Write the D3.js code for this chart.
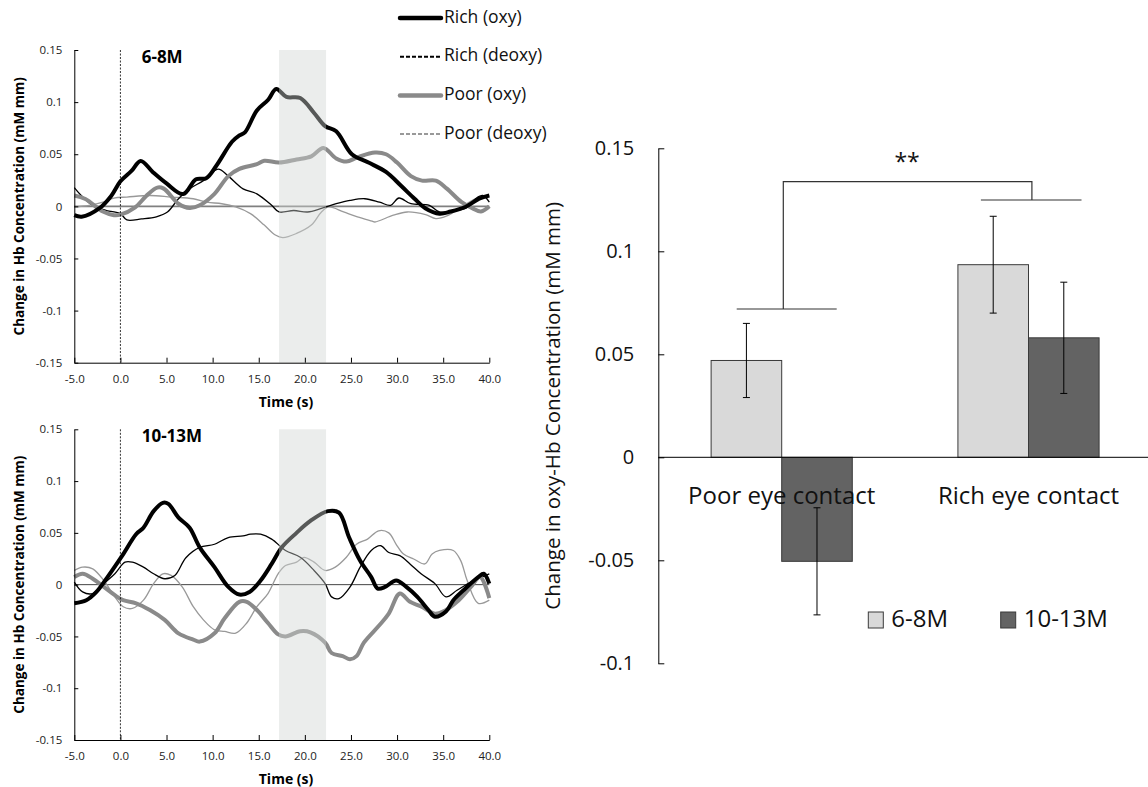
<!DOCTYPE html>
<html>
<head>
<meta charset="utf-8">
<script src="https://cdn.jsdelivr.net/npm/d3@7"></script>
<style>
  body { margin: 0; background: #fff; }
  svg { font-family: "Open Sans", sans-serif; }
</style>
</head>
<body>
<svg id="chart" width="1148" height="787"></svg>
<script>
//Time axis and value axis ticks shared by both line panels
const timeTicks = [-5, 0, 5, 10, 15, 20, 25, 30, 35, 40];
const hbTicks = [-0.15, -0.1, -0.05, 0, 0.05, 0.1, 0.15];
//Shaded analysis window (s)
const windowRange = [17.2, 22.3];

//6-8M panel, [time (s), change in Hb]
const richOxy68 = [[-5,-0.0085],[-4.2,-0.010],[-2.3,-0.002],[-1,0.010],[0,0.024],[1.2,0.034],[2.2,0.0436],[3.5,0.033],[5,0.022],[6.8,0.0118],[8.2,0.026],[9.3,0.027],[10.4,0.039],[12.1,0.062],[12.9,0.068],[13.5,0.071],[14.8,0.092],[16,0.102],[16.9,0.1125],[18,0.105],[19.5,0.104],[21,0.0896],[22.2,0.077],[23.4,0.072],[25.1,0.05],[26.9,0.042],[28.8,0.033],[30.4,0.020],[31.9,0.0073],[33.1,-0.002],[34.6,-0.007],[35.8,-0.005],[37.4,-0.0006],[38.9,0.0073],[40,0.0104]];
const richDeoxy68 = [[-5,0.018],[-4.2,0.010],[-3,0.001],[-1.5,-0.004],[0,-0.007],[0.7,-0.013],[2.3,-0.012],[3.9,-0.010],[5.1,-0.0054],[6.3,0.0073],[7.5,0.0168],[9,0.0247],[10.6,0.0358],[11.7,0.029],[13.3,0.0168],[14.8,0.012],[16.4,0.001],[17.2,-0.0054],[18.8,-0.004],[20.3,-0.0054],[21.8,-0.002],[23.4,0.0025],[24.9,0.0057],[26.5,0.0073],[28.1,0.004],[29.3,0.001],[30.2,0.008],[31.5,0.0025],[33.5,0.001],[34.6,-0.0054],[36.2,-0.004],[37.4,-0.002],[38.5,0.0073],[39.3,0.0104],[40,0.004]];
const poorOxy68 = [[-5,0.0104],[-3.8,0.007],[-1.9,-0.005],[-0.7,-0.0085],[0,-0.008],[1.6,-0.001],[2.8,0.010],[4,0.018],[4.7,0.017],[6.3,0.0025],[7.5,-0.0016],[8.6,0.001],[10.2,0.012],[11.7,0.029],[12.9,0.036],[14.8,0.0405],[15.6,0.0437],[17.2,0.042],[19.1,0.045],[20.7,0.048],[22,0.056],[23.4,0.046],[24.5,0.043],[25.7,0.047],[27.6,0.0516],[28.8,0.050],[30,0.042],[31.5,0.029],[32.7,0.0247],[34.2,0.0247],[35.4,0.017],[37,0.004],[38.2,-0.002],[39.1,-0.005],[40,0]];
const poorDeoxy68 = [[-5,-0.0006],[-3.4,0.001],[-1.9,0.004],[-0.7,0.008],[0.7,0.0089],[3.2,0.0104],[5.5,0.0089],[7.9,0.0073],[9.4,0.004],[11,0.0025],[12.5,-0.0006],[14.1,-0.007],[15.6,-0.018],[16.8,-0.0275],[17.6,-0.030],[19.1,-0.026],[20.7,-0.018],[21.8,-0.0054],[22.6,-0.0006],[24.2,-0.0054],[25.7,-0.010],[27.3,-0.0142],[27.6,-0.015],[29.6,-0.0085],[31.1,-0.0054],[33.1,-0.008],[34.2,-0.0117],[35.4,-0.0092],[37,-0.0006],[38.5,0.0073],[40,0.0104]];

//10-13M panel
const richOxy1013 = [[-5,-0.018],[-3.7,-0.015],[-2.6,-0.007],[-1.4,0.0073],[0.2,0.028],[1.7,0.0487],[2.5,0.055],[3.6,0.071],[4.6,0.079],[5.2,0.078],[6.3,0.0647],[7.5,0.055],[8.6,0.036],[10.2,0.0169],[11.7,-0.0022],[12.9,-0.0096],[14,-0.007],[15.2,0.004],[16.4,0.020],[17.5,0.036],[19.1,0.050],[20.6,0.0615],[22.5,0.071],[23.7,0.0695],[24.8,0.0455],[26,0.023],[27.2,0.0073],[27.9,-0.0038],[28.7,-0.0022],[29.9,0.004],[31,-0.0022],[32.2,-0.0118],[33.4,-0.0245],[34.1,-0.031],[35.3,-0.026],[36.1,-0.015],[37.2,-0.0054],[38.8,0.0073],[39.4,0.0105],[40,0.001]];
const richDeoxy1013 = [[-5,0.0025],[-4.1,-0.007],[-3,-0.0086],[-1.8,0.001],[-0.6,0.0105],[0.5,0.0217],[1.3,0.0217],[2.5,0.0169],[3.6,0.0105],[4.8,0.0057],[5.9,0.0089],[7.1,0.026],[8.6,0.036],[10.2,0.039],[11.7,0.0455],[13.3,0.047],[14.1,0.0487],[15.2,0.0487],[16.4,0.044],[17.9,0.033],[19.5,0.0264],[21,0.0137],[22.2,0.001],[22.9,-0.0118],[23.7,-0.0134],[24.9,-0.0022],[26,0.0169],[27.2,0.033],[28.2,0.0376],[29.1,0.031],[30.3,0.028],[31.4,0.020],[32.6,0.0105],[34.1,0.001],[35.3,-0.0118],[36.5,-0.0054],[38,0.0025],[40,0.0105]];
const poorOxy1013 = [[-5,0.0073],[-4.1,0.0105],[-3,0.0057],[-1.8,-0.0022],[-0.6,-0.0102],[0.3,-0.015],[1.7,-0.018],[3.2,-0.0245],[4.8,-0.034],[6.3,-0.047],[7.9,-0.053],[8.6,-0.055],[10.2,-0.047],[11.3,-0.0325],[12.9,-0.0166],[13.7,-0.0166],[14.8,-0.0245],[16,-0.037],[17.1,-0.048],[17.9,-0.050],[19.5,-0.045],[20.6,-0.046],[22.2,-0.056],[22.9,-0.066],[24.1,-0.069],[24.9,-0.072],[25.6,-0.069],[26.4,-0.056],[28,-0.040],[29.1,-0.028],[30.3,-0.0086],[31.4,-0.0166],[32.6,-0.021],[34.1,-0.028],[35.3,-0.0245],[36.5,-0.0166],[38,-0.0022],[39,0.0073],[40,-0.013]];
const poorDeoxy1013 = [[-5,0.0137],[-4.1,0.0169],[-3,0.0153],[-1.8,0.004],[-0.6,-0.0118],[0.3,-0.0213],[1.3,-0.023],[2.5,-0.015],[3.6,0.001],[4.6,0.0105],[5.5,0.0089],[6.7,-0.0022],[7.9,-0.0213],[9,-0.034],[10.2,-0.0436],[11.3,-0.0452],[12.5,-0.0468],[13.7,-0.037],[14.8,-0.0213],[16,-0.0086],[17.1,0.0105],[17.9,0.0185],[19.1,0.0217],[19.9,0.0264],[21,0.0217],[22.2,0.0137],[23.3,0.0169],[24.5,0.0264],[25.6,0.039],[26.8,0.044],[28,0.052],[29.1,0.050],[29.9,0.039],[30.7,0.0296],[31.8,0.0248],[33,0.020],[33.8,0.0296],[34.6,0.033],[36.1,0.033],[36.9,0.0232],[37.6,0.004],[38.8,-0.018],[40,-0.015]];

//Legend names for the line panels
const lineNames = ["Rich (oxy)", "Rich (deoxy)", "Poor (oxy)", "Poor (deoxy)"];

//Bar chart: categories, age groups, means and standard errors
const conditions = ["Poor eye contact", "Rich eye contact"];
const ageGroups = ["6-8M", "10-13M"];
const barMeans = [[0.047, -0.0505], [0.0935, 0.058]];
const barErrors = [[0.018, 0.026], [0.0235, 0.027]];
const barTicks = [-0.1, -0.05, 0, 0.05, 0.1, 0.15];
//Significance bracket levels (value units)
const bracketLevels = {top: 0.1338, poor: 0.072, rich: 0.1249};

const svg = d3.select("#chart");

//Styles for the four curves, in the order of lineNames
const lineStyles = [
    {color: "#000000", width: 4, dash: null},
    {color: "#000000", width: 1.3, dash: "4,2"},
    {color: "#8a8a8a", width: 4, dash: null},
    {color: "#999999", width: 1.3, dash: "4,2"}
];

function drawPanel(top, bottom, label, series, zeroColor, zeroWidth) {
    const xScale = d3.scaleLinear().domain([-5, 40]).range([74.3, 489.3]);
    const yScale = d3.scaleLinear().domain([-0.15, 0.15]).range([bottom, top]);
    const g = svg.append("g");

    //Zero reference line
    g.append("line")
        .attr("x1", xScale(-5)).attr("x2", xScale(40))
        .attr("y1", yScale(0)).attr("y2", yScale(0))
        .attr("stroke", zeroColor).attr("stroke-width", zeroWidth);

    const line = d3.line()
        .curve(d3.curveCatmullRom.alpha(0.5))
        .x(d => xScale(d[0]))
        .y(d => yScale(d[1]));

    //Curves, thin ones under the thick ones
    [3, 1, 2, 0].forEach(i => {
        g.append("path")
            .datum(series[i])
            .attr("fill", "none")
            .attr("stroke", lineStyles[i].color)
            .attr("stroke-width", lineStyles[i].width)
            .attr("stroke-linejoin", "round")
            .attr("d", line);
    });

    //Semi transparent window drawn over the curves
    g.append("rect")
        .attr("x", xScale(windowRange[0]))
        .attr("width", xScale(windowRange[1]) - xScale(windowRange[0]))
        .attr("y", yScale(0.15))
        .attr("height", yScale(-0.15) - yScale(0.15))
        .attr("fill", "#cfd3d1")
        .attr("fill-opacity", 0.42);

    //Stimulus onset
    g.append("line")
        .attr("x1", xScale(0)).attr("x2", xScale(0))
        .attr("y1", yScale(0.15)).attr("y2", yScale(-0.15))
        .attr("stroke", "#000").attr("stroke-width", 0.8)
        .attr("stroke-dasharray", "2,1.5");

    //Axes with inward ticks
    const xAxis = g.append("g")
        .attr("transform", "translate(0," + yScale(-0.15) + ")")
        .call(d3.axisBottom(xScale)
            .tickValues(timeTicks)
            .tickFormat(d => d.toFixed(1))
            .tickSizeInner(-5).tickSizeOuter(0).tickPadding(12));
    const yAxis = g.append("g")
        .attr("transform", "translate(" + xScale(-5) + ",0)")
        .call(d3.axisLeft(yScale)
            .tickValues(hbTicks)
            .tickFormat(d => String(d))
            .tickSizeInner(-4).tickSizeOuter(0).tickPadding(12));
    [xAxis, yAxis].forEach(a => {
        a.selectAll("text").attr("font-size", 11.5).attr("fill", "#222")
            .attr("font-family", "Open Sans");
        a.select(".domain").attr("stroke", "#000");
    });

    g.append("text")
        .attr("x", 286).attr("y", yScale(-0.15) + 44)
        .attr("text-anchor", "middle")
        .attr("font-size", 14).attr("font-weight", "bold")
        .text("Time (s)");

    g.append("text")
        .attr("transform", "translate(20," + (top + bottom) / 2 + ") rotate(-90)")
        .attr("text-anchor", "middle").attr("dominant-baseline", "middle")
        .attr("font-size", 13.5).attr("font-weight", "bold")
        .text("Change in Hb Concentration (mM mm)");

    g.append("text")
        .attr("x", 141.7).attr("y", top + 8.5)
        .attr("dominant-baseline", "middle")
        .attr("font-size", 17).attr("font-weight", "bold")
        .text(label);
}

drawPanel(50, 362.7, "6-8M", [richOxy68, richDeoxy68, poorOxy68, poorDeoxy68], "#808080", 1.8);
drawPanel(429.3, 740, "10-13M", [richOxy1013, richDeoxy1013, poorOxy1013, poorDeoxy1013], "#444", 1);

//Legend of the line panels
const legend = svg.append("g");
lineNames.forEach((name, i) => {
    const y = 18 + i * 38.7;
    legend.append("line")
        .attr("x1", 400).attr("x2", 441).attr("y1", y).attr("y2", y)
        .attr("stroke", lineStyles[i].color)
        .attr("stroke-width", lineStyles[i].dash ? 2 : 4.5)
        .attr("stroke-linecap", lineStyles[i].dash ? "butt" : "round")
        .attr("stroke-dasharray", lineStyles[i].dash);
    legend.append("text")
        .attr("x", 444).attr("y", y)
        .attr("dominant-baseline", "middle")
        .attr("font-size", 17.5).attr("fill", "#111")
        .text(name);
});

//Bar chart
const barX = d3.scaleBand().domain(conditions).range([658.3, 1151.9])
    .paddingInner(0.428).paddingOuter(0.214);
const groupX = d3.scaleBand().domain(ageGroups).range([0, barX.bandwidth()]);
const barY = d3.scaleLinear().domain([-0.1, 0.15]).range([663.3, 148.3]);
const barColors = ["#d9d9d9", "#636363"];
const bars = svg.append("g");

conditions.forEach((c, ci) => {
    ageGroups.forEach((a, ai) => {
        const v = barMeans[ci][ai];
        const x0 = barX(c) + groupX(a);
        bars.append("rect")
            .attr("x", x0).attr("width", groupX.bandwidth())
            .attr("y", barY(Math.max(v, 0)))
            .attr("height", Math.abs(barY(v) - barY(0)))
            .attr("fill", barColors[ai])
            .attr("stroke", "#3a3a3a").attr("stroke-width", 1);
    });
});

//Zero line and y axis
bars.append("line")
    .attr("x1", 658.3).attr("x2", 1148)
    .attr("y1", barY(0)).attr("y2", barY(0))
    .attr("stroke", "#000").attr("stroke-width", 1);
const barAxis = bars.append("g")
    .attr("transform", "translate(658.3,0)")
    .call(d3.axisLeft(barY)
        .tickValues(barTicks)
        .tickFormat(d => String(d))
        .tickSizeInner(-6).tickSizeOuter(0).tickPadding(24));
barAxis.selectAll("text").attr("font-size", 20).attr("fill", "#111")
    .attr("font-family", "Open Sans");

//Category labels sit just under the zero line
conditions.forEach(c => {
    bars.append("text")
        .attr("x", barX(c) + barX.bandwidth() / 2)
        .attr("y", barY(0) + 40)
        .attr("text-anchor", "middle").attr("dominant-baseline", "middle")
        .attr("font-size", 24).attr("fill", "#111")
        .text(c);
});

//Error bars
conditions.forEach((c, ci) => {
    ageGroups.forEach((a, ai) => {
        const cx = barX(c) + groupX(a) + groupX.bandwidth() / 2;
        const v = barMeans[ci][ai], e = barErrors[ci][ai];
        bars.append("line")
            .attr("x1", cx).attr("x2", cx)
            .attr("y1", barY(v + e)).attr("y2", barY(v - e))
            .attr("stroke", "#000").attr("stroke-width", 1);
        [v + e, v - e].forEach(w => {
            bars.append("line")
                .attr("x1", cx - 3.5).attr("x2", cx + 3.5)
                .attr("y1", barY(w)).attr("y2", barY(w))
                .attr("stroke", "#000").attr("stroke-width", 1);
        });
    });
});

//Significance bracket between the two conditions
const poorMid = barX(conditions[0]) + barX.bandwidth() / 2;
const richMid = barX(conditions[1]) + barX.bandwidth() / 2;
const bracket = svg.append("g").attr("stroke", "#333").attr("stroke-width", 1.2).attr("fill", "none");
bracket.append("path")
    .attr("d", "M" + (poorMid + 1.6) + "," + barY(bracketLevels.poor)
        + "V" + barY(bracketLevels.top)
        + "H" + (richMid + 3.4)
        + "V" + barY(bracketLevels.rich));
bracket.append("line")
    .attr("x1", poorMid - 45).attr("x2", poorMid + 55)
    .attr("y1", barY(bracketLevels.poor)).attr("y2", barY(bracketLevels.poor));
bracket.append("line")
    .attr("x1", richMid - 47.6).attr("x2", richMid + 53)
    .attr("y1", barY(bracketLevels.rich)).attr("y2", barY(bracketLevels.rich));
svg.append("text")
    .attr("x", (poorMid + richMid) / 2 + 2).attr("y", barY(bracketLevels.top) - 12)
    .attr("text-anchor", "middle").attr("font-size", 23).attr("fill", "#111")
    .text("**");

//Bar chart y title
svg.append("text")
    .attr("transform", "translate(555," + (barY(0.15) + barY(-0.1)) / 2 + ") rotate(-90)")
    .attr("text-anchor", "middle").attr("dominant-baseline", "middle")
    .attr("font-size", 20.5).attr("fill", "#111")
    .text("Change in oxy-Hb Concentration (mM mm)");

//Bar legend
const barLegendX = [868.3, 1000.7];
ageGroups.forEach((a, i) => {
    svg.append("rect")
        .attr("x", barLegendX[i]).attr("y", 612)
        .attr("width", 15).attr("height", 16)
        .attr("fill", barColors[i]).attr("stroke", "#3a3a3a");
    svg.append("text")
        .attr("x", barLegendX[i] + 23).attr("y", 621)
        .attr("dominant-baseline", "middle")
        .attr("font-size", 24).attr("fill", "#111")
        .text(a);
});
</script>
</body>
</html>
